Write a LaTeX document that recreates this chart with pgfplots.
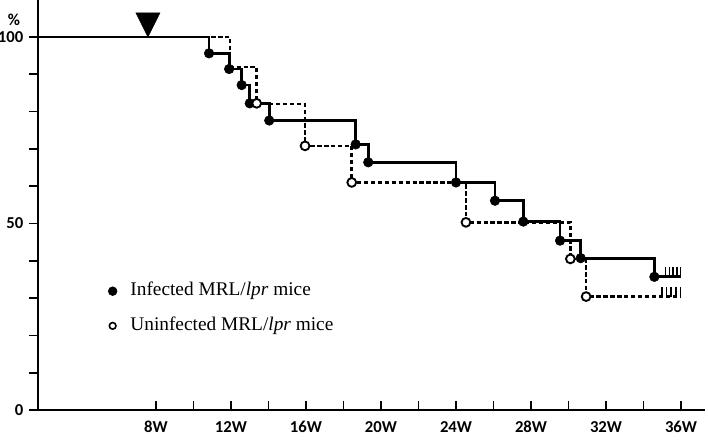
\documentclass[border=0pt]{standalone}
\usepackage{fontspec}
\setmainfont{Liberation Serif}
\newfontfamily\calibri{Carlito}
\usepackage{pgfplots}
\pgfplotsset{compat=1.18}
\begin{document}
\begin{tikzpicture}
\begin{axis}[
  at={(28.5pt,22.5pt)}, anchor=south west,
  scale only axis, width=500.25pt, height=307.5pt,
  xmin=1.707, xmax=37.28, ymin=0, ymax=109.9,
  axis x line=bottom, axis y line=left,
  axis line style={-, line width=1.8pt, black},
  clip=false,
  tick align=inside, major tick length=6.5pt,
  tick style={line width=1.3pt, black},
  ytick style={xshift=-6.5pt},
  xtick={8,10,...,36},
  xticklabels={8W,,12W,,16W,,20W,,24W,,28W,,32W,,36W},
  ytick={0,10,...,100},
  yticklabels={0,,,,,50,,,,,100},
  tick label style={font=\calibri\bfseries\fontsize{12.5}{14}\selectfont},
  x tick label style={yshift=-5pt},
  y tick label style={xshift=-7.5pt},
  legend style={draw=none, fill=none, inner sep=0pt, row sep=11pt, column sep=9pt,
    font=\fontsize{14.5}{16}\selectfont,
    nodes={text height=10pt, text depth=3pt, inner sep=1pt},
    at={(axis cs:5.44,34.6)}, anchor=north west},
  legend cell align=left,
  legend image code/.code={\draw[#1] plot coordinates {(0pt,0pt)};},
]
% uninfected (dashed)
\addplot[forget plot, black, line width=1.9pt, dash pattern=on 3.2pt off 2pt, const plot] coordinates {
(1.707,100) (11.95,91.9) (13.37,82.0) (15.95,70.8) (18.44,61.0) (24.53,50.3) (30.1,40.5) (30.94,30.4) (36.0,30.4)};
% infected (solid)
\addplot[forget plot, black, line width=2.1pt, const plot] coordinates {
(1.707,100) (10.83,95.6) (11.9,91.4) (12.57,87.1) (13.0,82.2) (14.04,77.6) (18.65,71.2) (19.32,66.4) (24.0,61.0) (26.08,56.1) (27.59,50.5) (29.55,45.4) (30.65,40.7) (34.58,35.7) (36.0,35.7)};
\addplot[forget plot, only marks, mark=*, mark size=3.6pt, black] coordinates {
(10.83,95.6) (11.9,91.4) (12.57,87.1) (13.0,82.2) (14.04,77.6) (18.65,71.2) (19.32,66.4) (24.0,61.0) (26.08,56.1) (27.59,50.5) (29.55,45.4) (30.65,40.7) (34.58,35.7)};
\addplot[forget plot, only marks, mark=*, mark size=3.3pt, mark options={fill=white, draw=black, line width=1.4pt}] coordinates {
(13.37,82.2) (15.95,70.8) (18.44,61.0) (24.53,50.3) (30.1,40.5) (30.94,30.4)};
% censor ticks
\addplot[forget plot, only marks, mark=|, mark size=3.6pt, mark options={line width=1.3pt, black}] coordinates {
(35.18,37.0) (35.38,37.0) (35.58,37.0) (35.78,37.0) (35.98,37.0)};
\addplot[forget plot, only marks, mark=|, mark size=3.6pt, mark options={line width=1.3pt, black}] coordinates {
(34.97,31.6) (35.23,31.6) (35.47,31.6) (35.73,31.6) (35.98,31.6)};
% arrow head
\addplot[forget plot, only marks, mark=triangle*, mark size=12pt, mark options={rotate=180, xscale=0.87, fill=black, draw=black}] coordinates {(7.57,104.3)};
\node[font=\calibri\bfseries\fontsize{12.5}{14}\selectfont] at (axis cs:0.43,104.6) {\%};
\addlegendimage{only marks, mark=*, mark size=3.3pt, black}
\addlegendentry{Infected MRL/\textit{lpr} mice}
\addlegendimage{only marks, mark=*, mark size=2.5pt, mark options={fill=white, draw=black, line width=1.2pt}}
\addlegendentry{Uninfected MRL/\textit{lpr} mice}
\end{axis}
\pgfresetboundingbox
\path[use as bounding box] (0,0) rectangle (531pt,330pt);
\end{tikzpicture}
\end{document}
